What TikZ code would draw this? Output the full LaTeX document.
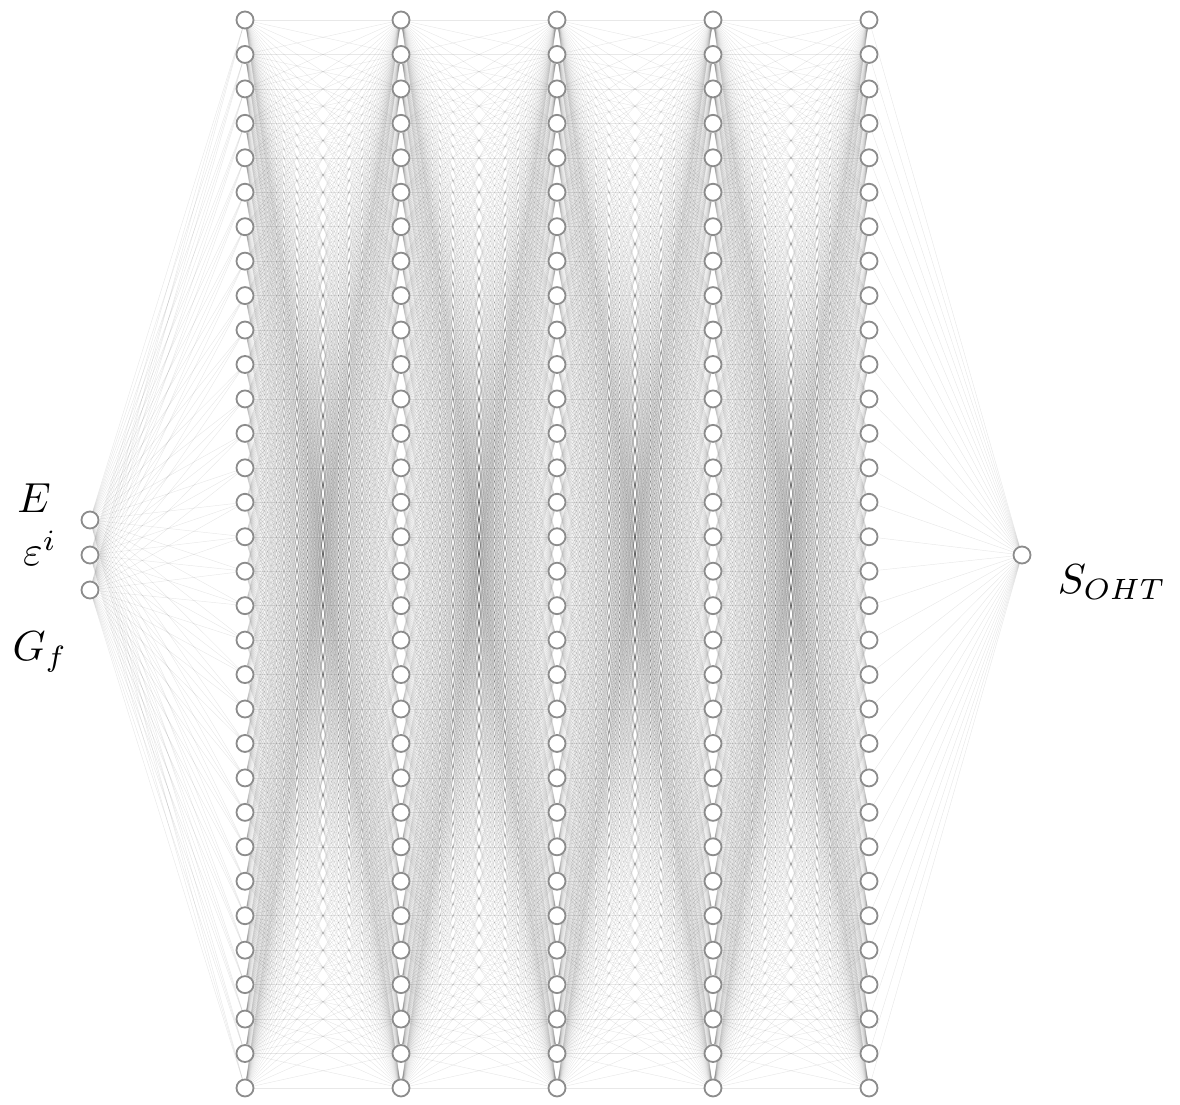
\documentclass[tikz,border=0pt]{standalone}
\usepackage{tikz}
\pgfdeclarelayer{bg}
\pgfsetlayers{bg,main}
\tikzset{
  neuron/.style={circle, draw=black!45, line width=1.8pt, fill=white, minimum size=17pt, inner sep=0pt},
  conn/.style={draw=black, line width=0.45pt, opacity=0.09},
  lab/.style={scale=4.2, inner sep=0pt}
}
\begin{document}
\begin{tikzpicture}[x=1pt,y=-1pt]
\useasboundingbox (0,0) rectangle (1180,1104);
% input layer
\foreach \i/\y in {1/520,2/555,3/590} \node[neuron] (in-\i) at (90,\y) {};
% hidden layers
\foreach \l/\x in {1/245,2/401,3/557,4/713,5/869}
  \foreach \i in {1,...,32}
    \node[neuron] (h\l-\i) at (\x,{20+(\i-1)*34.45}) {};
% output
\node[neuron] (out) at (1022,555) {};
\begin{pgfonlayer}{bg}
\fill[white] (0,0) rectangle (1180,1104);
\foreach \i in {1,2,3}
  \foreach \j in {1,...,32}
    \draw[conn] (in-\i) -- (h1-\j);
\foreach \l [evaluate=\l as \n using int(\l+1)] in {1,2,3,4}
  \foreach \i in {1,...,32}
    \foreach \j in {1,...,32}
      \draw[conn] (h\l-\i) -- (h\n-\j);
\foreach \j in {1,...,32}
  \draw[conn] (h5-\j) -- (out);
\end{pgfonlayer}
% labels
\node[lab] (lE) at (34,498) {$E$};
\node[lab] (lep) at (40,548) {$\varepsilon^{i}$};
\node[lab] (lG) at (40,652) {$G_{f}$};
\node[lab] (lS) at (1112,582) {$S_{OHT}$};
\end{tikzpicture}
\end{document}
